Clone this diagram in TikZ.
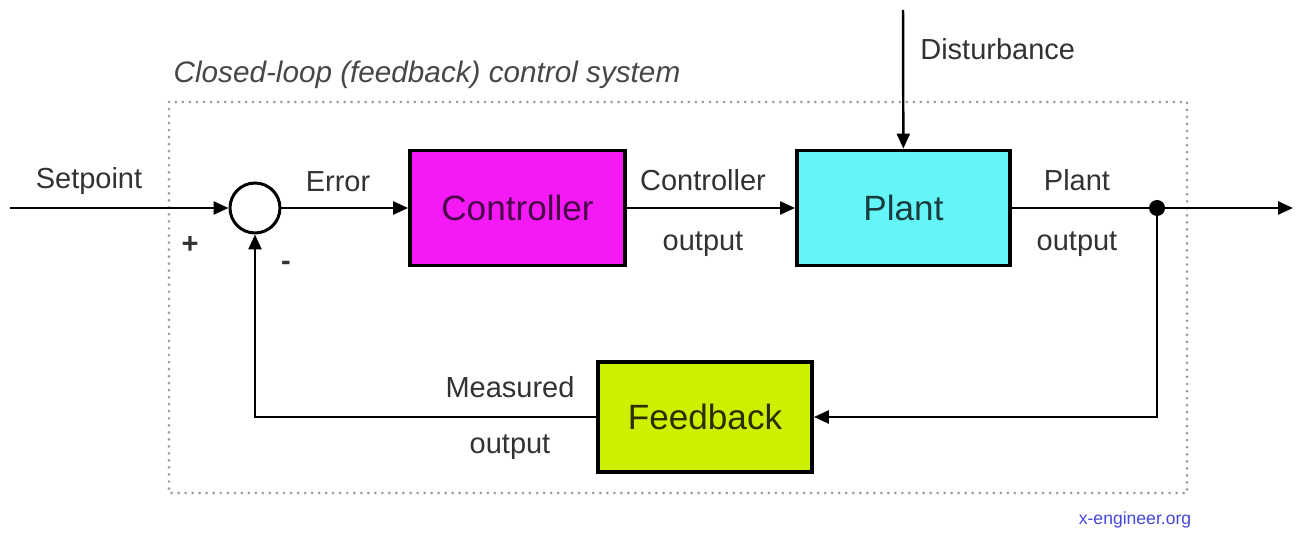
\documentclass[tikz,border=0pt]{standalone}
\usepackage{fontspec}
\setmainfont{Liberation Sans}
\usetikzlibrary{positioning,arrows.meta}

\definecolor{ctrlmag}{RGB}{245,25,245}
\definecolor{plantcyan}{RGB}{100,245,248}
\definecolor{fbgreen}{RGB}{205,240,0}
\definecolor{txtgray}{RGB}{50,50,50}
\definecolor{siteblue}{RGB}{70,70,215}

\begin{document}
\begin{tikzpicture}[x=0.02cm,y=-0.02cm,>={Triangle[length=0.3cm,width=0.26cm]},block/.style={draw, line width=2.2pt, minimum width=4.3cm, minimum height=2.3cm, font=\fontsize{20}{24}\selectfont, text=black!85},sig/.style={->, line width=1.4pt},lbl/.style={font=\fontsize{16.5}{19}\selectfont, text=txtgray, inner sep=0pt}]
\useasboundingbox (0,0) rectangle (1301,536);
% frame of the closed loop
\draw[gray!80, line width=1.7pt, line cap=round, dash pattern=on 0pt off 4pt] (169,102) rectangle (1187,493);
\node[lbl, font=\fontsize{16.9}{20}\selectfont\itshape, text=black!72] (title) at (427,75) {Closed-loop (feedback) control system};
% blocks
\node[circle, draw, line width=1.7pt, minimum size=1cm, inner sep=0pt] (sum) at (255,208) {};
\node[block, fill=ctrlmag, text=ctrlmag!30!black] (ctrl) at (517.5,208) {Controller};
\node[block, fill=plantcyan, text=plantcyan!25!black, minimum width=4.26cm] (plant) at (903.5,208) {Plant};
\node[block, fill=fbgreen, text=fbgreen!20!black, minimum width=4.28cm, minimum height=2.2cm] (fb) at (705,417) {Feedback};
\node[circle, fill, inner sep=0pt, minimum size=0.32cm] (tap) at (1157,208) {};
% free ends
\coordinate (in) at (10,208);
\coordinate (out) at (1293,208);
\coordinate (dist) at (903,10);
% signals
\draw[sig] (in) -- (sum);
\draw[sig] (sum) -- (ctrl);
\draw[sig] (ctrl) -- (plant);
\draw[sig] (dist) -- (plant);
\draw[line width=1.4pt] (plant) -- (tap);
\draw[sig] (tap) -- (out);
\draw[sig] (tap) |- (fb);
\draw[sig] (fb) -| (sum);
% signal names
\node[lbl] (setpt) at (89,181) {Setpoint};
\node[lbl] (plus) at (190,245) {\textbf{+}};
\node[lbl] (minus) at (286,266) {\textbf{-}};
\node[lbl] (err) at (338,182) {Error};
\node[lbl] (cout) at (703,180) {Controller};
\node[lbl, below=1.2cm of cout.base, anchor=base] (cout2) {output};
\node[lbl] (pout) at (1077,180) {Plant};
\node[lbl, below=1.2cm of pout.base, anchor=base] (pout2) {output};
\node[lbl] (mout) at (510,387) {Measured};
\node[lbl] (mout2) at (510,447) {output};
\node[lbl, anchor=west] (dname) at (920,49) {Disturbance};
\node[font=\fontsize{10}{12}\selectfont, text=siteblue, inner sep=0pt] (site) at (1135,520) {x-engineer.org};
\end{tikzpicture}
\end{document}
